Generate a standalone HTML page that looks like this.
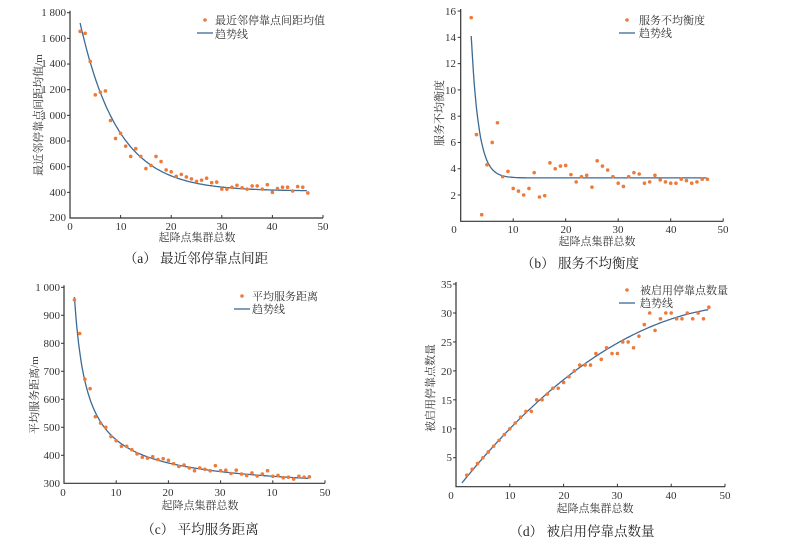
<!DOCTYPE html>
<html><head><meta charset="utf-8"><style>
html,body{margin:0;padding:0;background:#fff;}
svg{display:block;}
text{font-family:"Liberation Serif","Noto Serif CJK SC",serif;fill:#333;}
.t{font-size:11px;}
.c{font-size:13.5px;fill:#222;}
</style></head><body>
<svg id="s" width="793" height="546" viewBox="0 0 793 546" xmlns="http://www.w3.org/2000/svg">
<g id="g"></g>
<!-- (a) labels -->
<g class="t">
<text x="66" y="16" text-anchor="end">1 800</text>
<text x="66" y="42" text-anchor="end">1 600</text>
<text x="66" y="67" text-anchor="end">1 400</text>
<text x="66" y="93" text-anchor="end">1 200</text>
<text x="66" y="119" text-anchor="end">1 000</text>
<text x="66" y="144" text-anchor="end">800</text>
<text x="66" y="170" text-anchor="end">600</text>
<text x="66" y="196" text-anchor="end">400</text>
<text x="66" y="221" text-anchor="end">200</text>
<text x="70" y="230" text-anchor="middle">0</text>
<text x="121" y="230" text-anchor="middle">10</text>
<text x="171" y="230" text-anchor="middle">20</text>
<text x="222" y="230" text-anchor="middle">30</text>
<text x="272" y="230" text-anchor="middle">40</text>
<text x="323" y="230" text-anchor="middle">50</text>
<text x="197" y="241" text-anchor="middle">起降点集群总数</text>
<text transform="translate(42,115) rotate(-90)" text-anchor="middle">最近邻停靠点间距均值/m</text>
<text x="215" y="24">最近邻停靠点间距均值</text>
<text x="215" y="38">趋势线</text>
</g>
<text class="c" x="196" y="263" text-anchor="middle">（a） 最近邻停靠点间距</text>
<!-- (b) -->
<g class="t">
<text x="456" y="15" text-anchor="end">16</text>
<text x="456" y="41" text-anchor="end">14</text>
<text x="456" y="67" text-anchor="end">12</text>
<text x="456" y="94" text-anchor="end">10</text>
<text x="456" y="120" text-anchor="end">8</text>
<text x="456" y="146" text-anchor="end">6</text>
<text x="456" y="172" text-anchor="end">4</text>
<text x="456" y="199" text-anchor="end">2</text>
<text x="454" y="233" text-anchor="middle">0</text>
<text x="513" y="233" text-anchor="middle">10</text>
<text x="566" y="233" text-anchor="middle">20</text>
<text x="618" y="233" text-anchor="middle">30</text>
<text x="671" y="233" text-anchor="middle">40</text>
<text x="723" y="233" text-anchor="middle">50</text>
<text x="597" y="245" text-anchor="middle">起降点集群总数</text>
<text transform="translate(443,113) rotate(-90)" text-anchor="middle">服务不均衡度</text>
<text x="639" y="24">服务不均衡度</text>
<text x="639" y="37">趋势线</text>
</g>
<text class="c" x="580" y="268" text-anchor="middle">（b） 服务不均衡度</text>
<!-- (c) -->
<g class="t">
<text x="60" y="291" text-anchor="end">1 000</text>
<text x="60" y="319" text-anchor="end">900</text>
<text x="60" y="347" text-anchor="end">800</text>
<text x="60" y="375" text-anchor="end">700</text>
<text x="60" y="403" text-anchor="end">600</text>
<text x="60" y="431" text-anchor="end">500</text>
<text x="60" y="459" text-anchor="end">400</text>
<text x="60" y="487" text-anchor="end">300</text>
<text x="63" y="496" text-anchor="middle">0</text>
<text x="116" y="496" text-anchor="middle">10</text>
<text x="168" y="496" text-anchor="middle">20</text>
<text x="220" y="496" text-anchor="middle">30</text>
<text x="272" y="496" text-anchor="middle">10</text>
<text x="325" y="496" text-anchor="middle">50</text>
<text x="200" y="509" text-anchor="middle">起降点集群总数</text>
<text transform="translate(38,395) rotate(-90)" text-anchor="middle">平均服务距离/m</text>
<text x="252" y="300">平均服务距离</text>
<text x="252" y="313">趋势线</text>
</g>
<text class="c" x="200" y="534" text-anchor="middle">（c） 平均服务距离</text>
<!-- (d) -->
<g class="t">
<text x="452" y="288" text-anchor="end">35</text>
<text x="452" y="317" text-anchor="end">30</text>
<text x="452" y="346" text-anchor="end">25</text>
<text x="452" y="375" text-anchor="end">20</text>
<text x="452" y="404" text-anchor="end">15</text>
<text x="452" y="433" text-anchor="end">10</text>
<text x="452" y="461" text-anchor="end">5</text>
<text x="451" y="499" text-anchor="middle">0</text>
<text x="510" y="499" text-anchor="middle">10</text>
<text x="564" y="499" text-anchor="middle">20</text>
<text x="617" y="499" text-anchor="middle">30</text>
<text x="671" y="499" text-anchor="middle">40</text>
<text x="725" y="499" text-anchor="middle">50</text>
<text x="595" y="512" text-anchor="middle">起降点集群总数</text>
<text transform="translate(434,388) rotate(-90)" text-anchor="middle">被启用停靠点数量</text>
<text x="640" y="294">被启用停靠点数量</text>
<text x="640" y="307">趋势线</text>
</g>
<text class="c" x="582" y="536" text-anchor="middle">（d） 被启用停靠点数量</text>
</svg>
<script>
var g=document.getElementById('g'),NS='http://www.w3.org/2000/svg';
function el(n,a){var e=document.createElementNS(NS,n);for(var k in a)e.setAttribute(k,a[k]);g.appendChild(e);return e;}
function chart(c){
 var X=function(v){return c.x0+(v-0)*c.sx},Y=function(v){return c.y0-(v-c.ymin)*c.sy};
 el('path',{d:'M'+c.x0+' '+(Y(c.ymax)-2)+'V'+c.y0+'H'+(X(50)),stroke:'#333',fill:'none','stroke-width':1.2});
 for(var i=10;i<=50;i+=10)el('line',{x1:X(i),x2:X(i),y1:c.y0,y2:c.y0-3,stroke:'#333'});
 for(var v=c.ymin+c.ys;v<=c.ymax+1e-9;v+=c.ys)el('line',{x1:c.x0,x2:c.x0-3,y1:Y(v),y2:Y(v),stroke:'#333'});
 var d='';for(var x=c.xs;x<=47;x+=0.2){d+=(d?'L':'M')+X(x).toFixed(1)+' '+Y(c.f(x)).toFixed(1);}
 el('path',{d:d,stroke:'#3b6a96',fill:'none','stroke-width':1.3});
 c.d.forEach(function(v,i){el('circle',{cx:X(i+2),cy:Y(v),r:1.8,fill:'#ee7a3a'});});
 el('circle',{cx:c.lg[0],cy:c.lg[1],r:1.8,fill:'#ee7a3a'});
 el('line',{x1:c.lg[0]-8,x2:c.lg[0]+8,y1:c.lg[1]+13,y2:c.lg[1]+13,stroke:'#3b6a96','stroke-width':1.3});
}
chart({x0:70,y0:218,sx:5.06,sy:0.1283,ymin:200,ymax:1800,ys:200,xs:2,lg:[205,20],
 f:function(x){return 410+1310*Math.exp(-0.1336*(x-2));},
 d:[1655,1640,1420,1160,1180,1190,960,820,860,760,680,740,680,585,610,680,640,575,560,525,540,520,505,485,495,510,475,480,425,425,440,455,435,425,450,450,425,460,400,430,440,440,410,445,440,395]});
chart({x0:460.7,y0:221.3,sx:5.25,sy:13.14,ymin:0,ymax:16,ys:2,xs:2,lg:[627,20],
 f:function(x){return 3.3+10.8*Math.exp(-0.7*(x-2));},
 d:[15.5,6.6,0.5,4.3,6.0,7.5,3.4,3.8,2.5,2.3,2.0,2.5,3.7,1.85,1.95,4.45,4.0,4.2,4.25,3.55,3.0,3.4,3.5,2.6,4.6,4.2,3.9,3.4,2.9,2.65,3.4,3.7,3.6,2.9,3.0,3.5,3.15,3.0,2.9,2.9,3.2,3.1,2.9,3.0,3.2,3.2]});
chart({x0:64,y0:483.3,sx:5.22,sy:0.28,ymin:300,ymax:1000,ys:100,xs:2,lg:[242,296],
 f:function(x){return 261+1226*Math.pow(x,-0.8);},
 d:[955,835,672,638,538,515,500,467,452,432,432,420,405,393,390,395,385,388,382,370,360,365,355,345,355,350,345,363,345,347,335,347,333,328,337,326,333,345,325,328,320,322,315,325,322,323]});
chart({x0:456,y0:486.7,sx:5.38,sy:5.79,ymin:0,ymax:35,ys:5,xs:1.1,lg:[627,290],
 f:function(x){return -0.63+1.171*x-0.01078*x*x;},
 d:[2,3,4,5,6,7,8,9,10,11,12,13,13,15,15,16,17,17,18,19,20,21,21,21,23,22,24,23,23,25,25,24,26,28,30,27,29,30,30,29,29,30,29,30,29,31]});
</script>
</body></html>
